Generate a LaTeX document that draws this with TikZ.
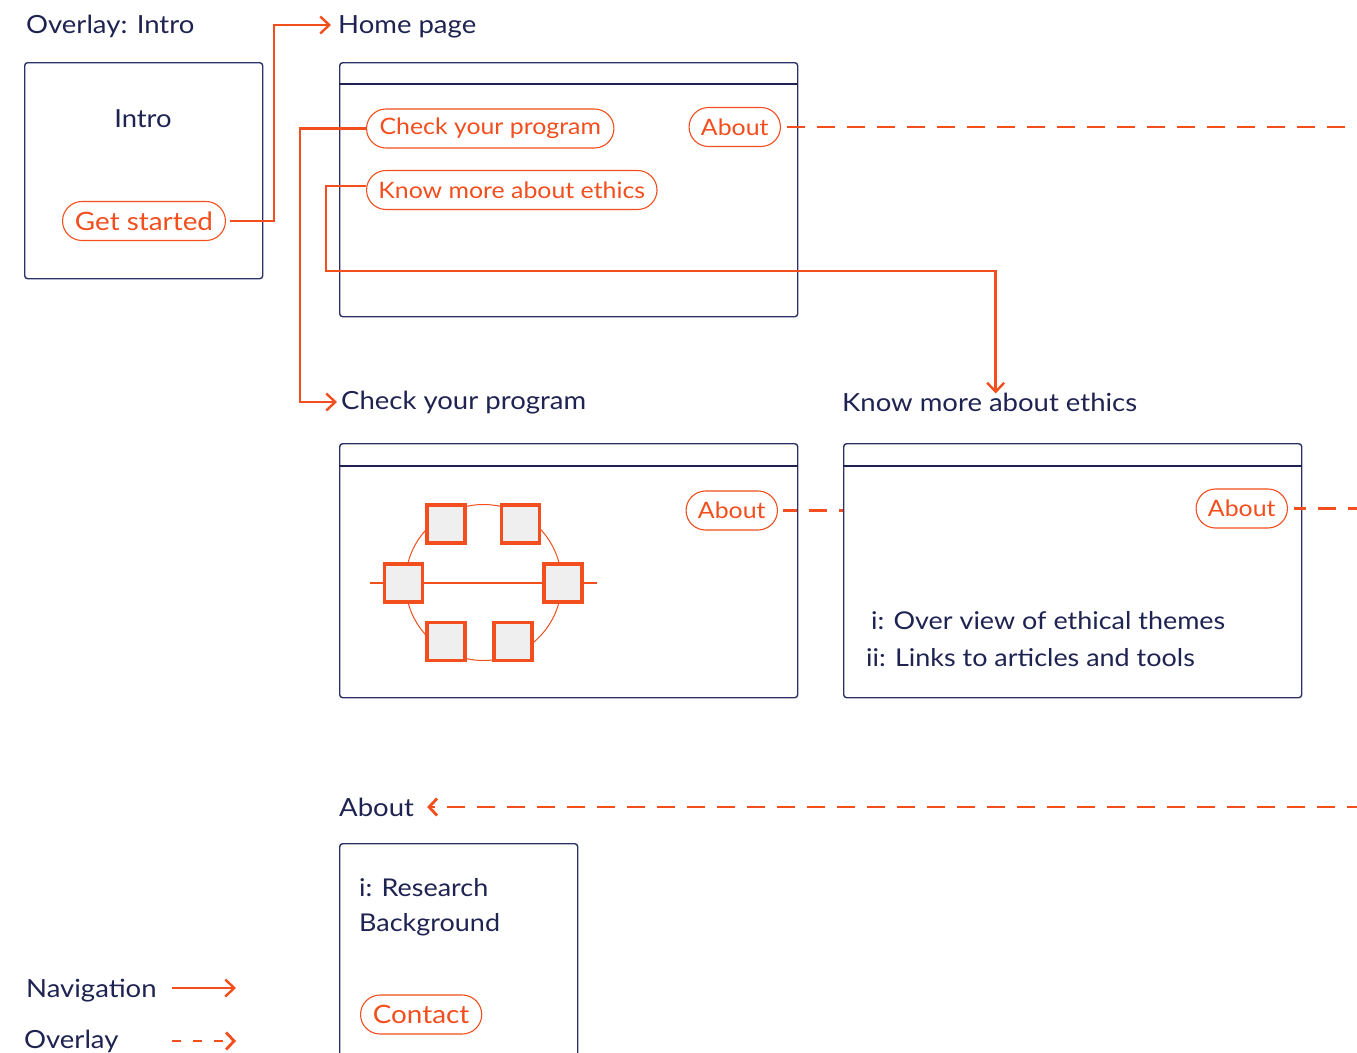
\documentclass[tikz,border=0pt]{standalone}
\usepackage{fontspec}
\setmainfont{Lato}[FakeStretch=1.1]
\usetikzlibrary{arrows.meta,shapes.misc}
\definecolor{ink}{HTML}{1E2352}
\definecolor{frame}{HTML}{2C3166}
\definecolor{accent}{HTML}{F24E1E}
\definecolor{tile}{HTML}{EFEFEF}
\tikzset{
  lbl/.style={anchor=west, inner sep=0pt, text=ink, font=\fontsize{25}{29}\selectfont},
  body/.style={anchor=west, inner sep=0pt, text=ink, font=\fontsize{24.5}{28}\selectfont},
  screen/.style={draw=frame, line width=1.4pt, rounded corners=3pt, fill=white, anchor=north west, inner sep=0pt},
  hdr/.style={draw=ink, line width=2.4pt},
  pill/.style={rounded rectangle, draw=accent, line width=1.1pt, text=accent, inner xsep=10pt, minimum height=39pt, font=\fontsize{22.6}{26}\selectfont},
  bigpill/.style={pill, font=\fontsize{25.3}{29}\selectfont},
  nav/.style={draw=accent, line width=2.4pt, -{Straight Barb[length=9pt,width=17pt,line width=2.4pt]}},
  ovl/.style={draw=accent, line width=2.8pt, dash pattern=on 18pt off 12pt},
  ovlarrow/.style={ovl, -{Straight Barb[length=8pt,width=17pt,line width=2.8pt]}},
  sq/.style={draw=accent, fill=tile, line width=3.4pt, minimum size=38pt, inner sep=0pt},
  wire/.style={draw=accent, line width=2pt},
}
\begin{document}
\begin{tikzpicture}[x=1pt, y=-1pt]
\clip (0,0) rectangle (1357,1052);
\fill[white] (0,0) rectangle (1357,1052);
\coordinate (eastedge) at (1365,0);

% ---- Intro overlay ----
\node[lbl] (introlbl) at (26,26) {Overlay: Intro};
\node[screen, minimum width=238pt, minimum height=216pt] (intro) at (24,62) {};
\node[text=ink, inner sep=0pt, font=\fontsize{24.9}{29}\selectfont] (introtxt) at (143,119) {Intro};
\node[bigpill] (getstarted) at (144,221) {Get started};

% ---- Home page ----
\node[lbl] (homelbl) at (338,27) {Home page};
\node[screen, minimum width=458pt, minimum height=254pt] (home) at (339,62) {};
\draw[hdr] ([yshift=-22pt]home.north west) -- ([yshift=-22pt]home.north east);
\node[pill, anchor=west] (checkpill) at (366,128.5) {Check your program};
\node[pill, anchor=west] (knowpill) at (366,190) {Know more about ethics};
\node[pill, anchor=east] (abouthome) at (781,127) {About};

% ---- Check your program ----
\node[lbl] (checklbl) at (341,403) {Check your program};
\node[screen, minimum width=458pt, minimum height=254pt] (check) at (339,443) {};
\draw[hdr] ([yshift=-23pt]check.north west) -- ([yshift=-23pt]check.north east);
\node[pill, anchor=east] (aboutcheck) at (778,510.5) {About};

% ring of program elements
\node[circle, draw=accent, line width=1pt, minimum size=156pt, inner sep=0pt] (ring) at (483.5,582.5) {};
\node[sq] (sqtl) at (446,524) {};
\node[sq] (sqtr) at (520.5,524) {};
\node[sq] (sql) at (403.5,583) {};
\node[sq] (sqr) at (563,583) {};
\node[sq] (sqbl) at (446,641.5) {};
\node[sq] (sqbr) at (513,641.5) {};
\draw[wire] ([xshift=-13pt]sql.west) -- (sql.west);
\draw[wire] (sql.east) -- (sqr.west);
\draw[wire] (sqr.east) -- ([xshift=13pt]sqr.east);

% ---- Know more about ethics ----
\node[lbl] (knowlbl) at (842,402) {Know more about ethics};
\node[screen, minimum width=458pt, minimum height=254pt] (know) at (843,443) {};
\draw[hdr] ([yshift=-23pt]know.north west) -- ([yshift=-23pt]know.north east);
\node[pill, anchor=east] (aboutknow) at (1288,508.5) {About};
\node[body] (theme1) at (871,621) {i: Over view of ethical themes};
\node[body] (theme2) at (866,658) {ii: Links to articles and tools};

% ---- About ----
\node[lbl] (aboutlbl) at (339,807) {About};
\node[screen, minimum width=238pt, minimum height=240pt] (about) at (339,843) {};
\node[body] (research) at (359,888) {i: Research};
\node[body] (background) at (359,925) {Background};
\node[bigpill, anchor=west] (contact) at (360,1014.5) {Contact};

% ---- Legend ----
\node[lbl] (navlg) at (26,991) {Navigation};
\node[lbl] (ovllg) at (24,1041) {Overlay};
\coordinate (legstart) at (172,0);

% ---- Navigation connectors ----
\draw[nav] ([xshift=4pt]getstarted.east) -- ++(44,0) |- ([xshift=-7pt,yshift=2pt]homelbl.west);
\draw[nav] (checkpill.west) -- ++(-66,0) |- ([xshift=-4pt,yshift=1pt]checklbl.west);
\draw[nav] ([yshift=4pt]knowpill.west) -- ++(-40,0) -- ++(0,85) -| ([xshift=6pt,yshift=-1pt]knowlbl.north);

% ---- Overlay connectors ----
\draw[ovl] ([xshift=6pt]abouthome.east) -- (abouthome.east -| eastedge);
\draw[ovl, dash phase=4pt] ([xshift=5pt]aboutcheck.east) -- (aboutcheck.east -| know.west);
\draw[ovl, dash phase=6pt] ([xshift=6pt]aboutknow.east) -- (aboutknow.east -| eastedge);
\draw[ovlarrow] (aboutlbl.east -| eastedge) -- ([xshift=13pt]aboutlbl.east);

% ---- Legend samples ----
\draw[nav] ([yshift=3pt]legstart |- navlg.west) -- ++(64,0);
\draw[ovlarrow, dash pattern=on 9pt off 12pt] (legstart |- ovllg.west) -- ++(64,0);
\end{tikzpicture}
\end{document}
